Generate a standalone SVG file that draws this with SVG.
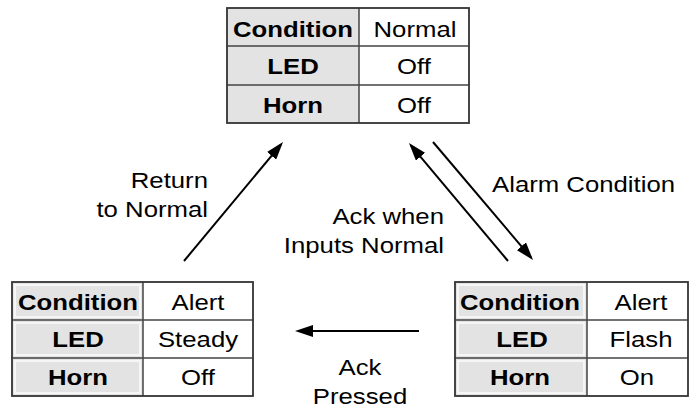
<svg xmlns="http://www.w3.org/2000/svg" width="689" height="409" viewBox="0 0 689 409">
  <style>
    text { font-family: "Liberation Sans", Arial, sans-serif; font-size: 22px; fill: #000; }
    .b { font-weight: bold; }
    .m { text-anchor: middle; }
    .e { text-anchor: end; }
    .hdr { fill: #e3e3e3; }
    .bevel { fill: none; stroke: #f6f6f6; stroke-width: 2; }
    .cell { fill: #ffffff; }
    .grid { stroke: #444; stroke-width: 1.5; fill: none; }
    .outer { stroke: #333; stroke-width: 1.8; fill: none; }
    .conn { stroke: #000; stroke-width: 2; fill: none; marker-end: url(#ah); }
  </style>
  <defs>
    <marker id="ah" markerUnits="userSpaceOnUse" markerWidth="18" markerHeight="12" refX="15" refY="6" orient="auto">
      <path d="M0,0 L18,6 L0,12 z" fill="#000"/>
    </marker>
  </defs>
  <rect width="689" height="409" fill="#fff"/>

  <g id="node-normal">
    <rect class="hdr" x="227" y="8" width="132" height="115"/>
    <rect class="cell" x="359" y="8" width="110" height="115"/>
    <path class="grid" d="M227,46 H469 M227,85 H469 M359,8 V123"/>
    <rect class="outer" x="227" y="8" width="242" height="115"/>
    <text class="b m" transform="translate(293,37) scale(1.17,1)">Condition</text>
    <text class="m" transform="translate(415,37) scale(1.17,1)">Normal</text>
    <text class="b m" transform="translate(293,74) scale(1.17,1)">LED</text>
    <text class="m" transform="translate(414,74) scale(1.17,1)">Off</text>
    <text class="b m" transform="translate(293,113) scale(1.17,1)">Horn</text>
    <text class="m" transform="translate(414,113) scale(1.17,1)">Off</text>
  </g>

  <g id="node-alert-steady">
    <rect class="hdr" x="12" y="282" width="131" height="114"/>
    <rect class="bevel" x="15" y="285" width="125" height="32"/>
    <rect class="bevel" x="15" y="323" width="125" height="32"/>
    <rect class="bevel" x="15" y="361" width="125" height="32"/>
    <rect class="cell" x="143" y="282" width="110" height="114"/>
    <path class="grid" d="M12,320 H253 M12,358 H253 M143,282 V396"/>
    <rect class="outer" x="12" y="282" width="241" height="114"/>
    <text class="b m" transform="translate(78,310) scale(1.17,1)">Condition</text>
    <text class="m" transform="translate(198,310) scale(1.17,1)">Alert</text>
    <text class="b m" transform="translate(78,347) scale(1.17,1)">LED</text>
    <text class="m" transform="translate(198,347) scale(1.17,1)">Steady</text>
    <text class="b m" transform="translate(78,385) scale(1.17,1)">Horn</text>
    <text class="m" transform="translate(198,385) scale(1.17,1)">Off</text>
  </g>

  <g id="node-alert-flash">
    <rect class="hdr" x="455" y="282" width="132" height="114"/>
    <rect class="bevel" x="458" y="285" width="126" height="32"/>
    <rect class="bevel" x="458" y="323" width="126" height="32"/>
    <rect class="bevel" x="458" y="361" width="126" height="32"/>
    <rect class="cell" x="587" y="282" width="101" height="114"/>
    <path class="grid" d="M455,320 H688 M455,358 H688 M587,282 V396"/>
    <rect class="outer" x="455" y="282" width="233" height="114"/>
    <text class="b m" transform="translate(520,310) scale(1.17,1)">Condition</text>
    <text class="m" transform="translate(641,310) scale(1.17,1)">Alert</text>
    <text class="b m" transform="translate(522,347) scale(1.17,1)">LED</text>
    <text class="m" transform="translate(641,347) scale(1.17,1)">Flash</text>
    <text class="b m" transform="translate(520,385) scale(1.17,1)">Horn</text>
    <text class="m" transform="translate(637,385) scale(1.17,1)">On</text>
  </g>

  <g id="connectors">
    <line class="conn" x1="184" y1="261" x2="281.1" y2="144.3"/>
    <line class="conn" x1="508" y1="261" x2="410.9" y2="145.3"/>
    <line class="conn" x1="433" y1="142" x2="531.1" y2="257.7"/>
    <line class="conn" x1="419" y1="331" x2="298" y2="331"/>
  </g>

  <g id="labels">
    <text class="e" transform="translate(208,188) scale(1.17,1)">Return</text>
    <text class="e" transform="translate(208,217) scale(1.17,1)">to Normal</text>
    <text transform="translate(492,192) scale(1.17,1)">Alarm Condition</text>
    <text class="e" transform="translate(444,224) scale(1.17,1)">Ack when</text>
    <text class="e" transform="translate(444,253) scale(1.17,1)">Inputs Normal</text>
    <text class="m" transform="translate(360,375) scale(1.17,1)">Ack</text>
    <text class="m" transform="translate(360,404) scale(1.17,1)">Pressed</text>
  </g>
</svg>
